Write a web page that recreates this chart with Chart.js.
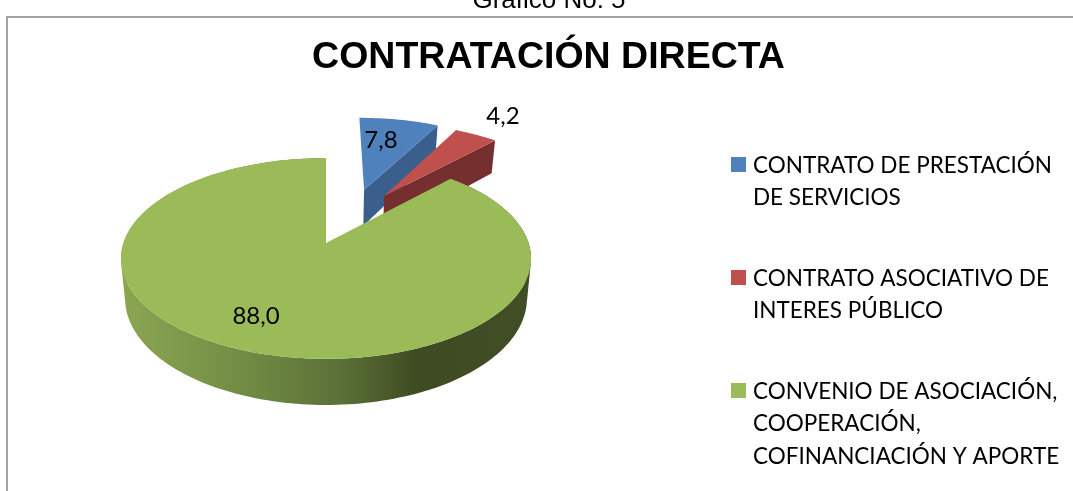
<!DOCTYPE html>
<html>
<head>
<meta charset="utf-8">
<title>Contratación directa</title>
<script src="https://cdn.jsdelivr.net/npm/chart.js@4"></script>
<style>
  html, body { margin: 0; padding: 0; background: #fff; overflow: hidden; }
  canvas { display: block; }
</style>
</head>
<body>
<canvas id="pieChart" width="1073" height="491"></canvas>
<script>
var categories = ['CONTRATO DE PRESTACIÓN DE SERVICIOS', 'CONTRATO ASOCIATIVO DE INTERES PÚBLICO', 'CONVENIO DE ASOCIACIÓN, COOPERACIÓN, COFINANCIACIÓN Y APORTE'];
var values = [7.8, 4.2, 88.0];
var colors = ['#4F81BD', '#C0504D', '#9BBB59'];
var wallColors = ['#3A5F8D', '#752F2E'];

// the pie is tilted, so each unit-disk point goes through a small perspective
var cx = 326, cy = 243, rx = 202.6, ry = 98, persp = 0.154, depth = 39;
// how far each slice is pulled out, in pie radii
var explode = [[0.205, 0.59], [0.31, 0.518], [0, 0]];
var labelSpots = [[381, 140], [503, 116], [256, 316]];

function project(u, v, down) {
    var w = 1 + persp * v;
    var x = rx * u / w, y = ry * v / w;
    if (down) {
        return [cx + x * 0.98, cy - y + depth / w];
    }
    return [cx + x, cy - y];
}

function arcPoints(arc, shift, down) {
    var pts = [];
    var steps = Math.max(4, Math.ceil((arc.endAngle - arc.startAngle) * 40));
    for (var i = 0; i <= steps; i++) {
        var a = arc.startAngle + (arc.endAngle - arc.startAngle) * i / steps;
        pts.push(project(shift[0] + Math.cos(a), shift[1] - Math.sin(a), down));
    }
    return pts;
}

function tracePoly(ctx, pts) {
    pts.forEach(function (p, i) {
        if (i === 0) ctx.moveTo(p[0], p[1]); else ctx.lineTo(p[0], p[1]);
    });
    ctx.closePath();
}

function fillPoly(ctx, pts, fill) {
    ctx.beginPath();
    tracePoly(ctx, pts);
    ctx.fillStyle = fill;
    ctx.fill();
}

function signedArea(pts) {
    var sum = 0;
    pts.forEach(function (p, i) {
        var q = pts[(i + 1) % pts.length];
        sum += p[0] * q[1] - q[0] * p[1];
    });
    return sum;
}

var pie3d = {
    id: 'pie3d',
    // draw the slices ourselves from the arcs the library worked out
    beforeDatasetDraw: function (chart, args) {
        var ctx = chart.ctx;
        var arcs = args.meta.data;
        ctx.save();
        arcs.forEach(function (arc, i) {
            var shift = explode[i];
            var top = arcPoints(arc, shift, false);
            var low = arcPoints(arc, shift, true);
            if (i < wallColors.length) {
                // pulled out slices only show the cut side
                fillPoly(ctx, [project(shift[0], shift[1], false), top[top.length - 1], low[low.length - 1], project(shift[0], shift[1], true)], wallColors[i]);
            } else {
                var wall = ctx.createLinearGradient(120, 0, 530, 0);
                wall.addColorStop(0, '#8CA653');
                wall.addColorStop(0.3, '#728C44');
                wall.addColorStop(0.55, '#5A6F37');
                wall.addColorStop(0.72, '#3F4B22');
                wall.addColorStop(1, '#414D24');
                // one path, all quads wound the same way, so no seams between them
                ctx.beginPath();
                for (var k = 0; k < top.length - 1; k++) {
                    var quad = [top[k], top[k + 1], low[k + 1], low[k]];
                    if (signedArea(quad) < 0) quad.reverse();
                    tracePoly(ctx, quad);
                }
                ctx.fillStyle = wall;
                ctx.fill();
            }
            fillPoly(ctx, [project(shift[0], shift[1], false)].concat(top), arc.options.backgroundColor);
        });
        ctx.restore();
        return false;
    },
    afterDraw: function (chart) {
        var ctx = chart.ctx;
        ctx.save();
        // chart frame, only top and left are in view
        ctx.strokeStyle = '#868686';
        ctx.lineWidth = 1.5;
        ctx.beginPath();
        ctx.moveTo(7, 491);
        ctx.lineTo(7, 17);
        ctx.lineTo(1073, 17);
        ctx.stroke();

        ctx.fillStyle = '#000';
        ctx.font = '26px "Liberation Sans"';
        ctx.textAlign = 'center';
        ctx.textBaseline = 'alphabetic';
        ctx.fillText('Gráfico No. 5', 549, 8);

        // value labels
        ctx.font = '24px Lato';
        ctx.textBaseline = 'middle';
        values.forEach(function (v, i) {
            ctx.fillText(v.toFixed(1).replace('.', ','), labelSpots[i][0], labelSpots[i][1]);
        });

        // legend, wrapped like the original
        ctx.font = '22.5px Lato';
        ctx.textAlign = 'left';
        var y = 164;
        categories.forEach(function (name, i) {
            ctx.fillStyle = colors[i];
            ctx.fillRect(731, y - 7, 15, 15);
            ctx.fillStyle = '#000';
            var line = '';
            var lines = [];
            name.split(' ').forEach(function (word) {
                var test = line ? line + ' ' + word : word;
                if (ctx.measureText(test).width > 325) {
                    lines.push(line);
                    line = word;
                } else {
                    line = test;
                }
            });
            lines.push(line);
            lines.forEach(function (text, k) {
                ctx.fillText(text, 753, y + 1.5 + k * 32.5);
            });
            y += 113;
        });
        ctx.restore();
    }
};

var ctx = document.getElementById('pieChart').getContext('2d');
var chart = new Chart(ctx, {
    type: 'pie',
    data: {
        labels: categories,
        datasets: [{
            data: values,
            backgroundColor: colors,
            borderWidth: 0
        }]
    },
    options: {
        responsive: false,
        animation: false,
        layout: { padding: { left: 24 } },
        plugins: {
            legend: { display: false },
            tooltip: { enabled: false },
            title: {
                display: true,
                text: 'CONTRATACIÓN DIRECTA',
                color: '#000',
                font: { family: '"Liberation Sans"', size: 37.5, weight: 'bold' },
                padding: { top: 35, bottom: 10 }
            }
        }
    },
    plugins: [pie3d]
});
</script>
</body>
</html>
